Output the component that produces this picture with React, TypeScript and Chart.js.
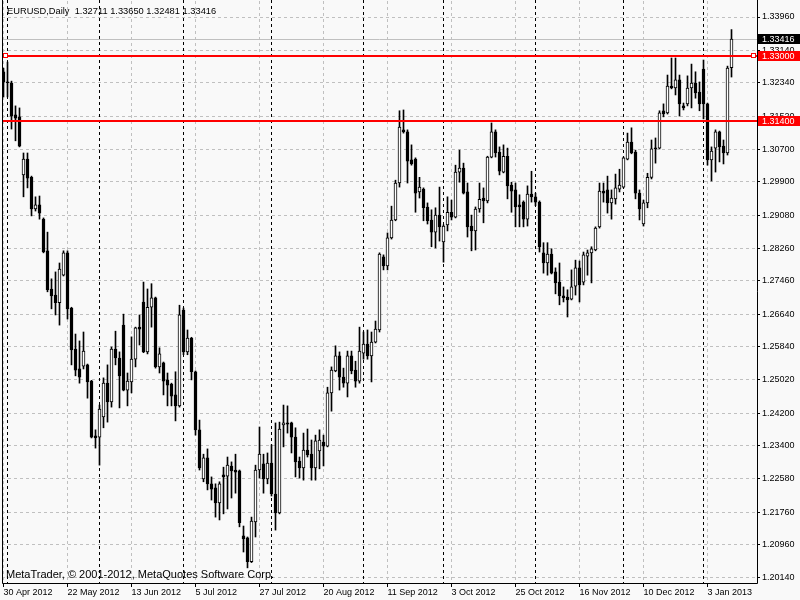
import React, { useEffect, useRef } from "react";
import { Chart, registerables } from "chart.js";

Chart.register(...registerables);

const symbolName = "EURUSD";
const periodName = "Daily";
const footerText = "MetaTrader, © 2001-2012, MetaQuotes Software Corp.";

const tickLabels = ["30 Apr 2012", "22 May 2012", "13 Jun 2012", "5 Jul 2012", "27 Jul 2012", "20 Aug 2012", "11 Sep 2012", "3 Oct 2012", "25 Oct 2012", "16 Nov 2012", "10 Dec 2012", "3 Jan 2013"];
const tickBars = [0, 16, 32, 48, 64, 80, 96, 112, 128, 144, 160, 176];
const monthStartBars = [1, 24, 45, 67, 90, 110, 133, 155, 175];
const priceTicks = [1.3396, 1.3314, 1.3234, 1.3152, 1.307, 1.299, 1.2908, 1.2826, 1.2746, 1.2664, 1.2584, 1.2502, 1.242, 1.234, 1.2258, 1.2176, 1.2096, 1.2014];
const levelLines = [1.33, 1.314];
const lastPrice = 1.33416;

const opens = [
  1.3261, 1.3236, 1.3233, 1.3155, 1.3150, 1.3007, 1.3046, 1.3001, 1.2923, 1.2933,
  1.2898, 1.2820, 1.2726, 1.2711, 1.2692, 1.2760, 1.2815, 1.2679, 1.2578, 1.2529,
  1.2536, 1.2539, 1.2499, 1.2364, 1.2361, 1.2411, 1.2494, 1.2448, 1.2578, 1.2556,
  1.2637, 1.2477, 1.2497, 1.2553, 1.2632, 1.2694, 1.2571, 1.2681, 1.2704, 1.2534,
  1.2544, 1.2502, 1.2492, 1.2465, 1.2438, 1.2674, 1.2571, 1.2605, 1.2522, 1.2379,
  1.2258, 1.2310, 1.2246, 1.2236, 1.2199, 1.2268, 1.2265, 1.2290, 1.2280, 1.2278,
  1.2118, 1.2113, 1.2054, 1.2152, 1.2280, 1.2295, 1.2258, 1.2297, 1.2221, 1.2174,
  1.2391, 1.2396, 1.2396, 1.2361, 1.2302, 1.2285, 1.2329, 1.2319, 1.2285, 1.2327,
  1.2349, 1.2339, 1.2470, 1.2524, 1.2561, 1.2509, 1.2494, 1.2561, 1.2526, 1.2499,
  1.2568, 1.2590, 1.2561, 1.2595, 1.2625, 1.2805, 1.2783, 1.2852, 1.2896, 1.2987,
  1.3118, 1.3113, 1.3044, 1.3046, 1.2965, 1.2972, 1.2928, 1.2896, 1.2866, 1.2908,
  1.2842, 1.2884, 1.2915, 1.2903, 1.3014, 1.3024, 1.2965, 1.2881, 1.2869, 1.2923,
  1.2950, 1.2943, 1.3051, 1.3113, 1.3063, 1.3014, 1.3053, 1.2982, 1.2970, 1.2933,
  1.2940, 1.2898, 1.2960, 1.2953, 1.2940, 1.2815, 1.2790, 1.2812, 1.2768, 1.2743,
  1.2709, 1.2706, 1.2701, 1.2733, 1.2778, 1.2743, 1.2807, 1.2815, 1.2822, 1.2879,
  1.2967, 1.2970, 1.2938, 1.2948, 1.2972, 1.2977, 1.3046, 1.3088, 1.3063, 1.2962,
  1.2886, 1.2938, 1.3001, 1.3073, 1.3073, 1.3165, 1.3160, 1.3226, 1.3221, 1.3241,
  1.3177, 1.3182, 1.3221, 1.3233, 1.3211, 1.3268, 1.3182, 1.3044, 1.3073, 1.3113,
  1.3078, 1.3061, 1.32711,
];

const highs = [
  1.3270, 1.3285, 1.3238, 1.3177, 1.3172, 1.3061, 1.3061, 1.3004, 1.2953, 1.2955,
  1.2901, 1.2866, 1.2751, 1.2768, 1.2790, 1.2820, 1.2820, 1.2681, 1.2615, 1.2598,
  1.2620, 1.2541, 1.2501, 1.2379, 1.2440, 1.2507, 1.2539, 1.2583, 1.2622, 1.2571,
  1.2664, 1.2519, 1.2608, 1.2632, 1.2662, 1.2743, 1.2726, 1.2739, 1.2706, 1.2581,
  1.2546, 1.2519, 1.2494, 1.2522, 1.2686, 1.2679, 1.2625, 1.2607, 1.2524, 1.2403,
  1.2319, 1.2332, 1.2263, 1.2246, 1.2251, 1.2287, 1.2312, 1.2300, 1.2319, 1.2280,
  1.2142, 1.2115, 1.2164, 1.2292, 1.2386, 1.2319, 1.2322, 1.2342, 1.2396, 1.2398,
  1.2440, 1.2438, 1.2398, 1.2384, 1.2312, 1.2371, 1.2381, 1.2354, 1.2366, 1.2379,
  1.2366, 1.2484, 1.2534, 1.2586, 1.2571, 1.2531, 1.2573, 1.2573, 1.2548, 1.2632,
  1.2620, 1.2625, 1.2620, 1.2647, 1.2815, 1.2810, 1.2864, 1.2930, 1.2994, 1.3165,
  1.3167, 1.3118, 1.3081, 1.3049, 1.3001, 1.2975, 1.2938, 1.2921, 1.2926, 1.2977,
  1.2884, 1.2953, 1.2945, 1.3031, 1.3068, 1.3036, 1.2987, 1.2908, 1.2928, 1.2987,
  1.2975, 1.3053, 1.3135, 1.3118, 1.3076, 1.3081, 1.3073, 1.2989, 1.2987, 1.2958,
  1.2943, 1.2980, 1.3016, 1.2962, 1.2943, 1.2840, 1.2840, 1.2825, 1.2778, 1.2790,
  1.2731, 1.2724, 1.2773, 1.2797, 1.2795, 1.2817, 1.2822, 1.2830, 1.2879, 1.2987,
  1.2987, 1.3004, 1.2970, 1.3009, 1.3021, 1.3051, 1.3110, 1.3123, 1.3068, 1.2970,
  1.2945, 1.3011, 1.3093, 1.3098, 1.3165, 1.3182, 1.3253, 1.3295, 1.3295, 1.3253,
  1.3184, 1.3251, 1.3280, 1.3261, 1.3236, 1.3290, 1.3184, 1.3076, 1.3118, 1.3115,
  1.3093, 1.3275, 1.33650,
];

const lows = [
  1.3199, 1.3199, 1.3120, 1.3091, 1.3076, 1.2953, 1.2975, 1.2906, 1.2918, 1.2898,
  1.2815, 1.2719, 1.2677, 1.2662, 1.2637, 1.2758, 1.2652, 1.2539, 1.2512, 1.2494,
  1.2529, 1.2457, 1.2359, 1.2334, 1.2292, 1.2384, 1.2398, 1.2435, 1.2539, 1.2433,
  1.2475, 1.2438, 1.2470, 1.2534, 1.2588, 1.2569, 1.2566, 1.2632, 1.2531, 1.2519,
  1.2465, 1.2438, 1.2438, 1.2401, 1.2435, 1.2564, 1.2564, 1.2502, 1.2366, 1.2280,
  1.2251, 1.2231, 1.2206, 1.2164, 1.2157, 1.2172, 1.2184, 1.2211, 1.2223, 1.2140,
  1.2078, 1.2039, 1.2052, 1.2115, 1.2260, 1.2223, 1.2246, 1.2216, 1.2132, 1.2172,
  1.2337, 1.2371, 1.2322, 1.2263, 1.2260, 1.2255, 1.2312, 1.2255, 1.2255, 1.2283,
  1.2290, 1.2337, 1.2425, 1.2522, 1.2477, 1.2484, 1.2460, 1.2517, 1.2484, 1.2494,
  1.2553, 1.2553, 1.2497, 1.2593, 1.2620, 1.2773, 1.2773, 1.2849, 1.2894, 1.2977,
  1.3110, 1.2987, 1.3031, 1.2915, 1.2950, 1.2894, 1.2886, 1.2830, 1.2827, 1.2844,
  1.2792, 1.2869, 1.2896, 1.2901, 1.2989, 1.2960, 1.2854, 1.2820, 1.2822, 1.2915,
  1.2889, 1.2938, 1.3049, 1.3051, 1.3007, 1.3012, 1.2948, 1.2915, 1.2879, 1.2879,
  1.2879, 1.2881, 1.2940, 1.2931, 1.2817, 1.2765, 1.2760, 1.2763, 1.2714, 1.2687,
  1.2694, 1.2657, 1.2699, 1.2711, 1.2694, 1.2736, 1.2760, 1.2741, 1.2820, 1.2876,
  1.2940, 1.2913, 1.2898, 1.2935, 1.2965, 1.2975, 1.3044, 1.3059, 1.2948, 1.2896,
  1.2881, 1.2926, 1.2997, 1.3036, 1.3071, 1.3150, 1.3157, 1.3219, 1.3204, 1.3152,
  1.3167, 1.3177, 1.3172, 1.3196, 1.3165, 1.3145, 1.3031, 1.2992, 1.3014, 1.3039,
  1.3034, 1.3056, 1.32481,
];

const closes = [
  1.3236, 1.3234, 1.3152, 1.3147, 1.3078, 1.3046, 1.2999, 1.2923, 1.2933, 1.2913,
  1.2817, 1.2724, 1.2709, 1.2692, 1.2775, 1.2815, 1.2677, 1.2576, 1.2526, 1.2509,
  1.2573, 1.2497, 1.2361, 1.2359, 1.2430, 1.2494, 1.2448, 1.2578, 1.2556, 1.2512,
  1.2477, 1.2499, 1.2553, 1.2630, 1.2627, 1.2571, 1.2681, 1.2704, 1.2534, 1.2566,
  1.2499, 1.2489, 1.2462, 1.2438, 1.2662, 1.2571, 1.2605, 1.2522, 1.2379, 1.2285,
  1.2310, 1.2246, 1.2233, 1.2199, 1.2246, 1.2263, 1.2292, 1.2278, 1.2275, 1.2150,
  1.2110, 1.2054, 1.2154, 1.2280, 1.2319, 1.2258, 1.2297, 1.2221, 1.2174, 1.2381,
  1.2396, 1.2393, 1.2361, 1.2300, 1.2285, 1.2329, 1.2317, 1.2285, 1.2352, 1.2354,
  1.2339, 1.2470, 1.2526, 1.2561, 1.2509, 1.2494, 1.2561, 1.2524, 1.2499, 1.2573,
  1.2590, 1.2561, 1.2595, 1.2627, 1.2812, 1.2783, 1.2852, 1.2896, 1.2987, 1.3125,
  1.3113, 1.3041, 1.3034, 1.2962, 1.2977, 1.2926, 1.2894, 1.2866, 1.2908, 1.2879,
  1.2881, 1.2915, 1.2903, 1.3014, 1.3024, 1.2962, 1.2879, 1.2869, 1.2923, 1.2947,
  1.2943, 1.3051, 1.3113, 1.3061, 1.3016, 1.3053, 1.2980, 1.2967, 1.2928, 1.2928,
  1.2898, 1.2960, 1.2953, 1.2940, 1.2830, 1.2790, 1.2812, 1.2765, 1.2741, 1.2709,
  1.2704, 1.2699, 1.2731, 1.2778, 1.2736, 1.2810, 1.2815, 1.2825, 1.2876, 1.2967,
  1.2962, 1.2938, 1.2950, 1.2975, 1.2982, 1.3049, 1.3088, 1.3061, 1.2962, 1.2923,
  1.2938, 1.3001, 1.3071, 1.3071, 1.3160, 1.3157, 1.3226, 1.3221, 1.3241, 1.3182,
  1.3172, 1.3221, 1.3233, 1.3209, 1.3182, 1.3182, 1.3044, 1.3066, 1.3113, 1.3076,
  1.3061, 1.3270, 1.33416,
];

const FONT_FAMILY = '"Liberation Sans", Arial, sans-serif';
const FONT_SIZE = 9;
const HEADER_SIZE = 9.3;
const FOOTER_SIZE = 11;
const BG = "#f9f9f9";
const GRID = "#c0c0c0";

export default function App() {
  const ref = useRef<HTMLCanvasElement | null>(null);

  useEffect(() => {
    const canvas = ref.current;
    if (!canvas) return;
    const idx = opens.map((_, i) => i);
    const bodies = idx.map((i) => ({ x: i, y: [opens[i], closes[i]] }));
    const wicks = idx.map((i) => ({ x: i, y: [lows[i], highs[i]] }));
    const fills = idx.map((i) => (closes[i] >= opens[i] ? "#ffffff" : "#000000"));
    const last = opens.length - 1;
    const header = `${symbolName},${periodName}  ${opens[last].toFixed(5)} ${highs[last].toFixed(5)} ${lows[last].toFixed(5)} ${closes[last].toFixed(5)}`;

    const overlay = {
      id: "mtOverlay",
      beforeDraw(chart: any) {
        const c = chart.ctx;
        c.save();
        c.fillStyle = BG;
        c.fillRect(0, 0, chart.width, chart.height);
        c.restore();
      },
      beforeDatasetsDraw(chart: any) {
        const c = chart.ctx;
        const a = chart.chartArea;
        const xs = chart.scales.x;
        const ys = chart.scales.y;
        c.save();
        c.lineWidth = 1;
        const by = Math.round(ys.getPixelForValue(lastPrice)) + 0.5;
        c.strokeStyle = GRID;
        c.beginPath();
        c.moveTo(a.left, by);
        c.lineTo(a.right, by);
        c.stroke();
        c.strokeStyle = "#000000";
        c.setLineDash([3, 3]);
        for (const m of monthStartBars) {
          const px = Math.round(xs.getPixelForValue(m) - 0.5) + 0.5;
          c.beginPath();
          c.moveTo(px, 0);
          c.lineTo(px, a.bottom);
          c.stroke();
        }
        c.restore();
      },
      afterDatasetsDraw(chart: any) {
        const c = chart.ctx;
        const a = chart.chartArea;
        const ys = chart.scales.y;
        c.save();
        c.strokeStyle = "#ff0000";
        c.lineWidth = 2;
        levelLines.forEach((lv) => {
          const py = Math.round(ys.getPixelForValue(lv));
          c.beginPath();
          c.moveTo(a.left + 1, py);
          c.lineTo(a.right, py);
          c.stroke();
        });
        const sy = Math.round(ys.getPixelForValue(levelLines[0]));
        c.lineWidth = 1;
        [a.left + 1.5, a.right - 5.5].forEach((sx) => {
          c.fillStyle = "#ffffff";
          c.fillRect(sx, sy - 2.5, 4, 4);
          c.strokeStyle = "#ff0000";
          c.strokeRect(sx, sy - 2.5, 4, 4);
        });
        c.strokeStyle = "#000000";
        c.lineWidth = 1;
        c.beginPath();
        c.moveTo(a.left + 0.5, 0);
        c.lineTo(a.left + 0.5, a.bottom - 0.5);
        c.lineTo(a.right + 0.5, a.bottom - 0.5);
        c.lineTo(a.right + 0.5, 0);
        c.stroke();
        c.font = `${FONT_SIZE}px ${FONT_FAMILY}`;
        c.textBaseline = "middle";
        c.textAlign = "left";
        const drawBox = (v: number, bg: string) => {
          const py = Math.round(ys.getPixelForValue(v));
          c.fillStyle = bg;
          c.fillRect(a.right + 1, py - 5, chart.width - a.right - 1, 10);
          c.fillStyle = "#ffffff";
          c.fillText(v.toFixed(5), a.right + 5, py + 0.5);
        };
        levelLines.forEach((lv) => drawBox(lv, "#ff0000"));
        drawBox(lastPrice, "#000000");
        c.fillStyle = "#000000";
        c.font = `${HEADER_SIZE}px ${FONT_FAMILY}`;
        c.fillText(header, a.left + 5, 11);
        c.font = `${FOOTER_SIZE}px ${FONT_FAMILY}`;
        c.fillText(footerText, a.left + 4, 575);
        c.restore();
      },
    };

    const chart = new Chart(canvas, {
      type: "bar",
      data: {
        datasets: [
          {
            data: bodies as any,
            backgroundColor: fills,
            borderColor: "#000000",
            borderWidth: 1,
            borderSkipped: false,
            barThickness: 3,
            grouped: false,
            minBarLength: 1,
            order: 0,
          } as any,
          {
            data: wicks as any,
            backgroundColor: "#000000",
            borderWidth: 0,
            barThickness: 1,
            grouped: false,
            order: 1,
          } as any,
        ],
      },
      options: {
        animation: false,
        responsive: false,
        devicePixelRatio: 1,
        events: [],
        layout: { padding: { left: 2, top: 1, right: 0, bottom: 0 } },
        plugins: { legend: { display: false }, tooltip: { enabled: false } },
        scales: {
          x: {
            type: "linear",
            min: -0.375,
            max: 188.375,
            offset: false,
            afterBuildTicks: (s: any) => {
              s.ticks = tickBars.map((v) => ({ value: v }));
            },
            afterFit: (s: any) => {
              s.height = 16;
              s.paddingLeft = 0;
              s.paddingRight = 0;
              s.paddingTop = 0;
              s.paddingBottom = 0;
            },
            grid: {
              offset: false,
              color: GRID,
              lineWidth: 1,
              drawTicks: true,
              tickLength: 3,
              tickColor: "#000000",
              tickBorderDash: [],
            },
            border: { display: false, dash: [3, 3] },
            ticks: {
              autoSkip: false,
              maxRotation: 0,
              minRotation: 0,
              align: "start",
              padding: 1,
              color: "#000000",
              font: { family: FONT_FAMILY, size: FONT_SIZE, lineHeight: 1 },
              callback: (_v: any, i: number) => tickLabels[i],
            },
          } as any,
          y: {
            type: "linear",
            position: "right",
            min: 1.19992,
            max: 1.3435416,
            beginAtZero: false,
            afterBuildTicks: (s: any) => {
              s.ticks = priceTicks.map((v) => ({ value: v }));
            },
            afterFit: (s: any) => {
              s.width = 43;
              s.paddingLeft = 0;
              s.paddingRight = 0;
              s.paddingTop = 0;
              s.paddingBottom = 0;
            },
            grid: {
              color: GRID,
              lineWidth: 1,
              drawTicks: true,
              tickLength: 3,
              tickColor: "#000000",
              tickBorderDash: [],
            },
            border: { display: false, dash: [3, 3] },
            ticks: {
              autoSkip: false,
              padding: 2,
              color: "#000000",
              font: { family: FONT_FAMILY, size: FONT_SIZE, lineHeight: 1 },
              callback: (v: any) => Number(v).toFixed(5),
            },
          } as any,
        },
      },
      plugins: [overlay as any],
    });
    return () => chart.destroy();
  }, []);

  return (
    <div style={{ position: "absolute", left: 0, top: 0, width: 800, height: 600 }}>
      <canvas ref={ref} width={800} height={600} style={{ display: "block" }} />
    </div>
  );
}
